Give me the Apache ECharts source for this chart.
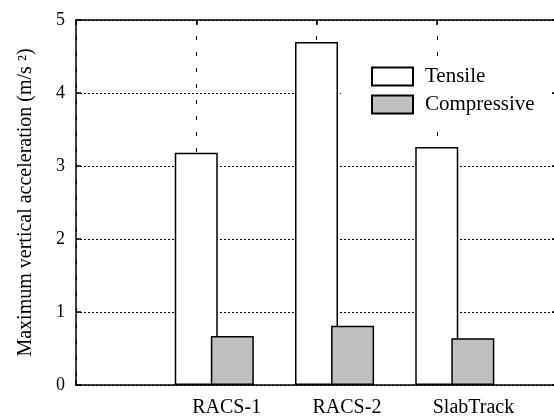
<!DOCTYPE html>
<html>
<head>
<meta charset="utf-8">
<script src="https://cdn.jsdelivr.net/npm/echarts@6/dist/echarts.min.js"></script>
<style>
html,body{margin:0;padding:0;background:#fff;}
#chart{width:554px;height:419px;}
</style>
</head>
<body>
<div id="chart"></div>
<script>
// ---- data ----
const categories = ['RACS-1', 'RACS-2', 'SlabTrack'];
const tensile = [3.18, 4.70, 3.26];
const compressive = [0.67, 0.81, 0.64];
const seriesNames = ['Tensile', 'Compressive'];
const yTicks = [0, 1, 2, 3, 4, 5];
const yTitle = 'Maximum vertical acceleration (m/s \u00B2)';

// ---- layout / style ----
const FONT = "'Liberation Serif', 'Times New Roman', serif";
const GROUP_SHIFT = 0.3; // horizontal offset of the second bar within a group
const chart = echarts.init(document.getElementById('chart'), null, {renderer: 'canvas'});

const tensileData = tensile.map((v, i) => [i + 1, v]);
const compData = compressive.map((v, i) => [i + 1 + GROUP_SHIFT, v]);

const lineBlack = {color: '#000', width: 1.5};

const option = {
  animation: false,
  backgroundColor: '#fff',
  grid: {left: 76, top: 20, width: 481, height: 365, containLabel: false, outerBoundsMode: 'none'},
  legend: {
    data: seriesNames,
    orient: 'vertical',
    left: 341,
    top: 57,
    padding: [9, 16, 11, 30],
    backgroundColor: '#fff',
    itemWidth: 41,
    itemHeight: 18,
    itemGap: 7,
    icon: 'rect',
    textStyle: {fontFamily: FONT, fontSize: 21, color: '#000', padding: [0, 0, 0, 7]},
    z: 10
  },
  xAxis: [
    {
      type: 'value', min: 0, max: 4, interval: 1, position: 'bottom',
      axisLine: {show: true, lineStyle: lineBlack},
      axisTick: {show: true, inside: true, length: 5, lineStyle: lineBlack},
      splitLine: {show: true, lineStyle: {color: '#000', width: 1, type: [4, 12]}},
      axisLabel: {
        show: true, align: 'left', margin: 13,
        fontFamily: FONT, fontSize: 20, color: '#000',
        padding: [0, 0, 0, -4],
        formatter: v => (v >= 1 && v <= categories.length && Number.isInteger(v)) ? categories[v - 1] : ''
      }
    },
    {
      type: 'value', min: 0, max: 4, interval: 1, position: 'top',
      axisLine: {show: true, onZero: false, lineStyle: lineBlack},
      axisTick: {show: true, inside: true, length: 5, lineStyle: lineBlack},
      splitLine: {show: false},
      axisLabel: {show: false}
    }
  ],
  yAxis: [
    {
      type: 'value', min: yTicks[0], max: yTicks[yTicks.length - 1], interval: 1, position: 'left',
      name: yTitle, nameLocation: 'middle', nameGap: 40, nameRotate: 90,
      nameTextStyle: {fontFamily: FONT, fontSize: 20, color: '#000'},
      axisLine: {show: true, onZero: false, lineStyle: lineBlack},
      axisTick: {show: true, inside: true, length: 5, lineStyle: lineBlack},
      splitLine: {show: true, lineStyle: {color: '#000', width: 1, type: [2, 2]}},
      axisLabel: {fontFamily: FONT, fontSize: 18, color: '#000', margin: 11}
    },
    {
      type: 'value', min: yTicks[0], max: yTicks[yTicks.length - 1], interval: 1, position: 'right',
      axisLine: {show: true, onZero: false, lineStyle: lineBlack},
      axisTick: {show: true, inside: true, length: 5, lineStyle: lineBlack},
      splitLine: {show: false},
      axisLabel: {show: false}
    }
  ],
  series: [
    {
      name: seriesNames[0], type: 'bar', xAxisIndex: 0, yAxisIndex: 0,
      data: tensileData, barWidth: 43, barGap: '-100%',
      itemStyle: {color: '#fff', borderColor: '#000', borderWidth: 1.5},
      z: 3
    },
    {
      name: seriesNames[1], type: 'bar', xAxisIndex: 0, yAxisIndex: 0,
      data: compData, barWidth: 43, barGap: '-100%',
      itemStyle: {color: '#c0c0c0', borderColor: '#000', borderWidth: 1.5},
      z: 4
    }
  ]
};
chart.setOption(option);
</script>
</body>
</html>
